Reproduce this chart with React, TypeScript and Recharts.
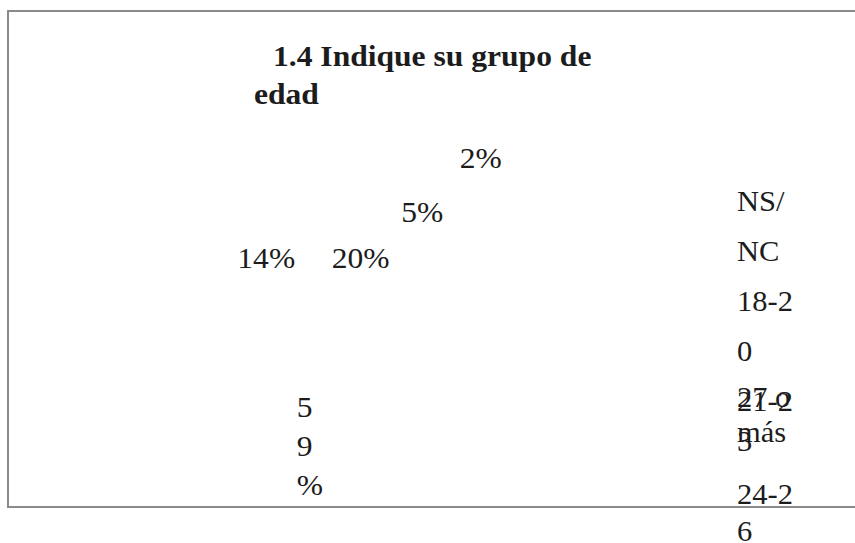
import React from 'react';
import { PieChart, Pie, Legend } from 'recharts';

// ---- data ----
const categories = ['NS/NC', '18-20', '21-23', '27 o más', '24-26'];
const shares = [2, 5, 20, 14, 59];
const titleLines = ['1.4 Indique su grupo de', 'edad'];

const data = categories.map((name, i) => ({ name, value: shares[i] }));

// ---- styles ----
const FONT = "'Liberation Serif', 'Times New Roman', serif";
const TEXT_COLOR = '#1c1c1c';
const STRETCH = 1.07; // reference text is slightly wider than tall
const LABEL_SIZE = 29.5;
const LABEL_LINE = 39;
// label nudges (px) relative to the pie's own label point, and wrap widths
const LABEL_NUDGE: [number, number][] = [
  [37, -90],
  [-6, -16],
  [14, 67],
  [24, 10],
  [-55, 23],
];
const LABEL_WRAP = [0, 0, 0, 0, 27];
const LEGEND_SIZE = 28.5;
const LEGEND_WRAP = 58;
// first baseline and line step of each legend entry (by category order)
const LEGEND_ROWS: [number, number][] = [
  [212, 50],
  [312, 50],
  [412, 40],
  [408, 35],
  [505, 37],
];
const TITLE_SIZE = 29.5;
const TITLE_POS: [number, number][] = [
  [273, 67],
  [254, 105],
];
const RAD = Math.PI / 180;

let ctx: CanvasRenderingContext2D | null = null;
function measure(s: string, size: number, weight = 'normal') {
  if (!ctx) ctx = document.createElement('canvas').getContext('2d');
  ctx!.font = `${weight} ${size}px ${FONT}`;
  return ctx!.measureText(s).width;
}
function wrap(text: string, width: number, size: number) {
  if (!width) return [text];
  const lines: string[] = [];
  let cur = '';
  for (const ch of Array.from(text)) {
    if (cur && measure(cur + ch, size) > width) {
      lines.push(cur);
      cur = ch;
    } else cur += ch;
  }
  if (cur) lines.push(cur);
  return lines;
}

const renderLabel = (p: any) => {
  const { cx, cy, midAngle, outerRadius, index, value } = p;
  const px = cx + outerRadius * Math.cos(-midAngle * RAD) + LABEL_NUDGE[index][0];
  const py = cy + outerRadius * Math.sin(-midAngle * RAD) + LABEL_NUDGE[index][1];
  const lines = wrap(`${value}%`, LABEL_WRAP[index], LABEL_SIZE);
  const maxW = Math.max(...lines.map((l) => measure(l, LABEL_SIZE))) * STRETCH;
  const left = px - maxW / 2;
  const firstBase = py - ((lines.length - 1) * LABEL_LINE) / 2 + 0.34 * LABEL_SIZE;
  return (
    <text
      key={`lbl-${index}`}
      x={left}
      y={firstBase}
      fill={TEXT_COLOR}
      fontFamily={FONT}
      fontSize={LABEL_SIZE}
      textAnchor="start"
      transform={`translate(${left},0) scale(${STRETCH},1) translate(${-left},0)`}
    >
      {lines.map((l, i) => (
        <tspan key={i} x={left} y={firstBase + i * LABEL_LINE}>
          {l}
        </tspan>
      ))}
    </text>
  );
};

const renderLegend = (props: any) => {
  const payload = props.payload || [];
  return (
    <div style={{ position: 'relative', fontFamily: FONT, fontSize: LEGEND_SIZE, color: TEXT_COLOR }}>
      {payload.map((entry: any) => {
        const name = String(entry.value);
        const idx = categories.indexOf(name);
        const lines = wrap(name, LEGEND_WRAP, LEGEND_SIZE);
        const [base, step] = LEGEND_ROWS[idx];
        return lines.map((l, j) => (
          <div
            key={`${idx}-${j}`}
            style={{
              position: 'absolute',
              left: 0,
              top: base + j * step - 0.8375 * LEGEND_SIZE,
              lineHeight: `${LEGEND_SIZE}px`,
              whiteSpace: 'pre',
              transform: `scaleX(${STRETCH})`,
              transformOrigin: '0 0',
            }}
          >
            {l}
          </div>
        ));
      })}
    </div>
  );
};

export default function App() {
  return (
    <div style={{ position: 'relative', width: 855, height: 543, overflow: 'hidden', background: '#fff' }}>
      <style>{'body{margin:0;}'}</style>
      <div
        style={{
          position: 'absolute',
          left: 7,
          top: 10,
          width: 1000,
          height: 498,
          boxSizing: 'border-box',
          border: '2px solid #8a8a8a',
        }}
      />
      {titleLines.map((t, i) => (
        <div
          key={i}
          style={{
            position: 'absolute',
            left: TITLE_POS[i][0],
            top: TITLE_POS[i][1] - 0.8375 * TITLE_SIZE,
            fontFamily: FONT,
            fontWeight: 'bold',
            fontSize: TITLE_SIZE,
            lineHeight: `${TITLE_SIZE}px`,
            color: TEXT_COLOR,
            whiteSpace: 'pre',
            transform: `scaleX(${STRETCH})`,
            transformOrigin: '0 0',
          }}
        >
          {t}
        </div>
      ))}
      <div style={{ position: 'absolute', left: 0, top: 0 }}>
        <PieChart width={855} height={543} margin={{ top: 0, right: 0, bottom: 0, left: 0 }}>
          <Pie
            data={data}
            dataKey="value"
            nameKey="name"
            cx={343}
            cy={308}
            outerRadius={117}
            startAngle={27}
            endAngle={387}
            fill="none"
            stroke="none"
            label={renderLabel}
            labelLine={false}
            isAnimationActive={false}
          />
          <Legend
            content={renderLegend}
            layout="vertical"
            wrapperStyle={{ left: 737, top: 0, width: 110, height: 543 }}
          />
        </PieChart>
      </div>
    </div>
  );
}
